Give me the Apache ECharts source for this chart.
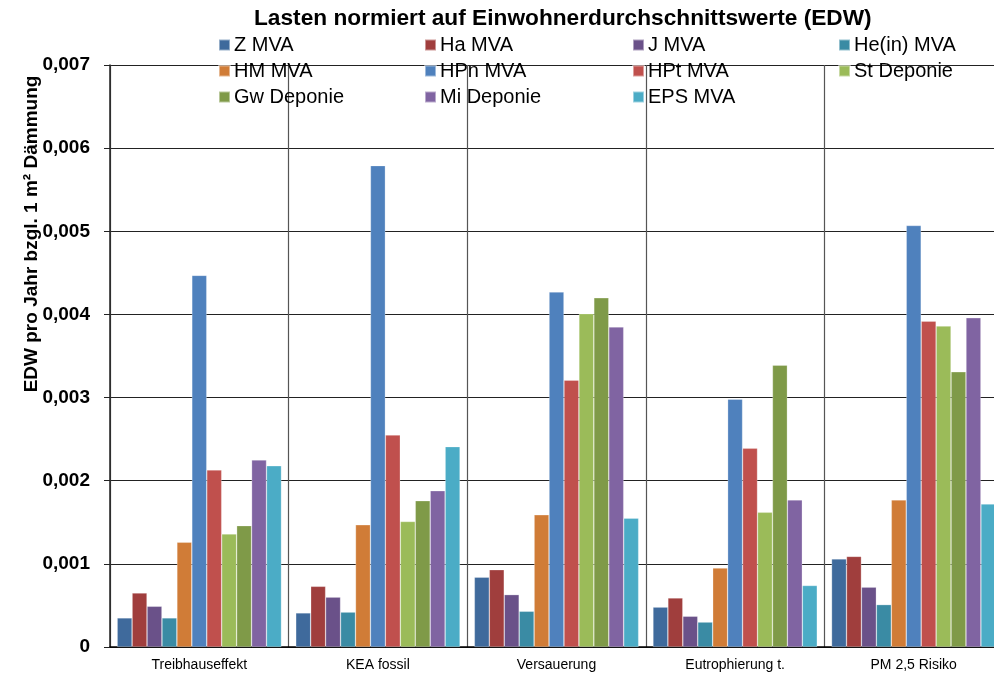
<!DOCTYPE html>
<html>
<head>
<meta charset="utf-8">
<script src="https://cdn.jsdelivr.net/npm/echarts@6/dist/echarts.min.js"></script>
<style>
    html, body { margin: 0; padding: 0; background: #fff; }
    #container { width: 994px; height: 677px; }
</style>
</head>
<body>
<div id="container"></div>
<script>
// Kategorien
var categories = ['Treibhauseffekt', 'KEA fossil', 'Versauerung', 'Eutrophierung t.', 'PM 2,5 Risiko'];

// Werte je Serie (EDW)
var zMVA      = [0.00035, 0.00041, 0.00084, 0.00048, 0.00106];
var haMVA     = [0.00065, 0.00073, 0.00093, 0.00059, 0.00109];
var jMVA      = [0.00049, 0.00060, 0.00063, 0.00037, 0.00072];
var heinMVA   = [0.00035, 0.00042, 0.00043, 0.00030, 0.00051];
var hmMVA     = [0.00126, 0.00147, 0.00159, 0.00095, 0.00177];
var hpnMVA    = [0.00447, 0.00579, 0.00427, 0.00298, 0.00507];
var hptMVA    = [0.00213, 0.00255, 0.00321, 0.00239, 0.00392];
var stDeponie = [0.00136, 0.00151, 0.00401, 0.00162, 0.00386];
var gwDeponie = [0.00146, 0.00176, 0.00420, 0.00339, 0.00331];
var miDeponie = [0.00225, 0.00188, 0.00385, 0.00177, 0.00396];
var epsMVA    = [0.00218, 0.00241, 0.00155, 0.00074, 0.00172];

var seriesNames = ['Z MVA', 'Ha MVA', 'J MVA', 'He(in) MVA', 'HM MVA', 'HPn MVA', 'HPt MVA', 'St Deponie', 'Gw Deponie', 'Mi Deponie', 'EPS MVA'];
var seriesData = [zMVA, haMVA, jMVA, heinMVA, hmMVA, hpnMVA, hptMVA, stDeponie, gwDeponie, miDeponie, epsMVA];
var colors = ['#3f6a9c', '#a03e3d', '#6a5189', '#3a8ba4', '#d07c37', '#4f81bd', '#c0504d', '#9bbb59', '#7f9a48', '#8064a2', '#4bacc6'];

var myChart = echarts.init(document.getElementById('container'));

var series = [];
for (var i = 0; i < seriesNames.length; i++) {
    series.push({
        name: seriesNames[i],
        type: 'bar',
        barGap: '0%',
        barCategoryGap: '8%',
        data: seriesData[i],
        itemStyle: {
            color: colors[i],
            borderColor: 'rgba(255,255,255,0.45)',
            borderWidth: 0.6
        }
    });
}

// Legende in 4 Spalten (wie im Original)
var legendCols = [
    ['Z MVA', 'HM MVA', 'Gw Deponie'],
    ['Ha MVA', 'HPn MVA', 'Mi Deponie'],
    ['J MVA', 'HPt MVA', 'EPS MVA'],
    ['He(in) MVA', 'St Deponie']
];
var legendLeft = [218, 424, 632, 838];
var legends = [];
for (var c = 0; c < legendCols.length; c++) {
    legends.push({
        data: legendCols[c],
        orient: 'vertical',
        left: legendLeft[c],
        top: 35,
        padding: 0,
        itemWidth: 11,
        itemHeight: 11,
        itemGap: 6,
        icon: 'rect',
        selectedMode: false,
        textStyle: {
            fontFamily: 'Liberation Sans',
            fontSize: 20,
            lineHeight: 20,
            color: '#000',
            padding: [0, 0, 0, -1]
        }
    });
}

var option = {
    animation: false,
    color: colors,
    title: {
        text: 'Lasten normiert auf Einwohnerdurchschnittswerte (EDW)',
        left: 254,
        top: 7,
        padding: 0,
        textStyle: {
            fontFamily: 'Liberation Sans',
            fontSize: 22.7,
            fontWeight: 'bold',
            color: '#000'
        }
    },
    legend: legends,
    graphic: [{
        type: 'text',
        x: 32,
        y: 234,
        rotation: Math.PI / 2,
        style: {
            text: 'EDW pro Jahr bzgl. 1 m² Dämmung',
            font: 'bold 19px "Liberation Sans"',
            fill: '#000',
            textAlign: 'center',
            textVerticalAlign: 'middle'
        }
    }],
    grid: {
        left: 110,
        top: 65,
        width: 893,
        height: 582,
        outerBoundsMode: 'none'
    },
    xAxis: {
        type: 'category',
        data: categories,
        axisLine: { lineStyle: { color: '#000', width: 1.5 } },
        axisTick: { show: false },
        axisLabel: {
            fontFamily: 'Liberation Sans',
            fontSize: 14,
            color: '#000',
            margin: 11
        },
        splitLine: {
            show: true,
            interval: 0,
            lineStyle: { color: '#555', width: 1.2 }
        }
    },
    yAxis: {
        type: 'value',
        min: 0,
        max: 0.007,
        interval: 0.001,
        axisLine: { show: true, lineStyle: { color: '#222', width: 1.5 } },
        axisTick: { show: true, length: 6, lineStyle: { color: '#222' } },
        axisLabel: {
            fontFamily: 'Liberation Sans',
            fontSize: 19,
            fontWeight: 'bold',
            color: '#000',
            margin: 20,
            formatter: function (v) {
                if (v === 0) return '0';
                return v.toFixed(3).replace('.', ',');
            }
        },
        splitLine: {
            show: true,
            lineStyle: { color: '#222', width: 1.2 }
        }
    },
    series: series
};
myChart.setOption(option);
</script>
</body>
</html>
